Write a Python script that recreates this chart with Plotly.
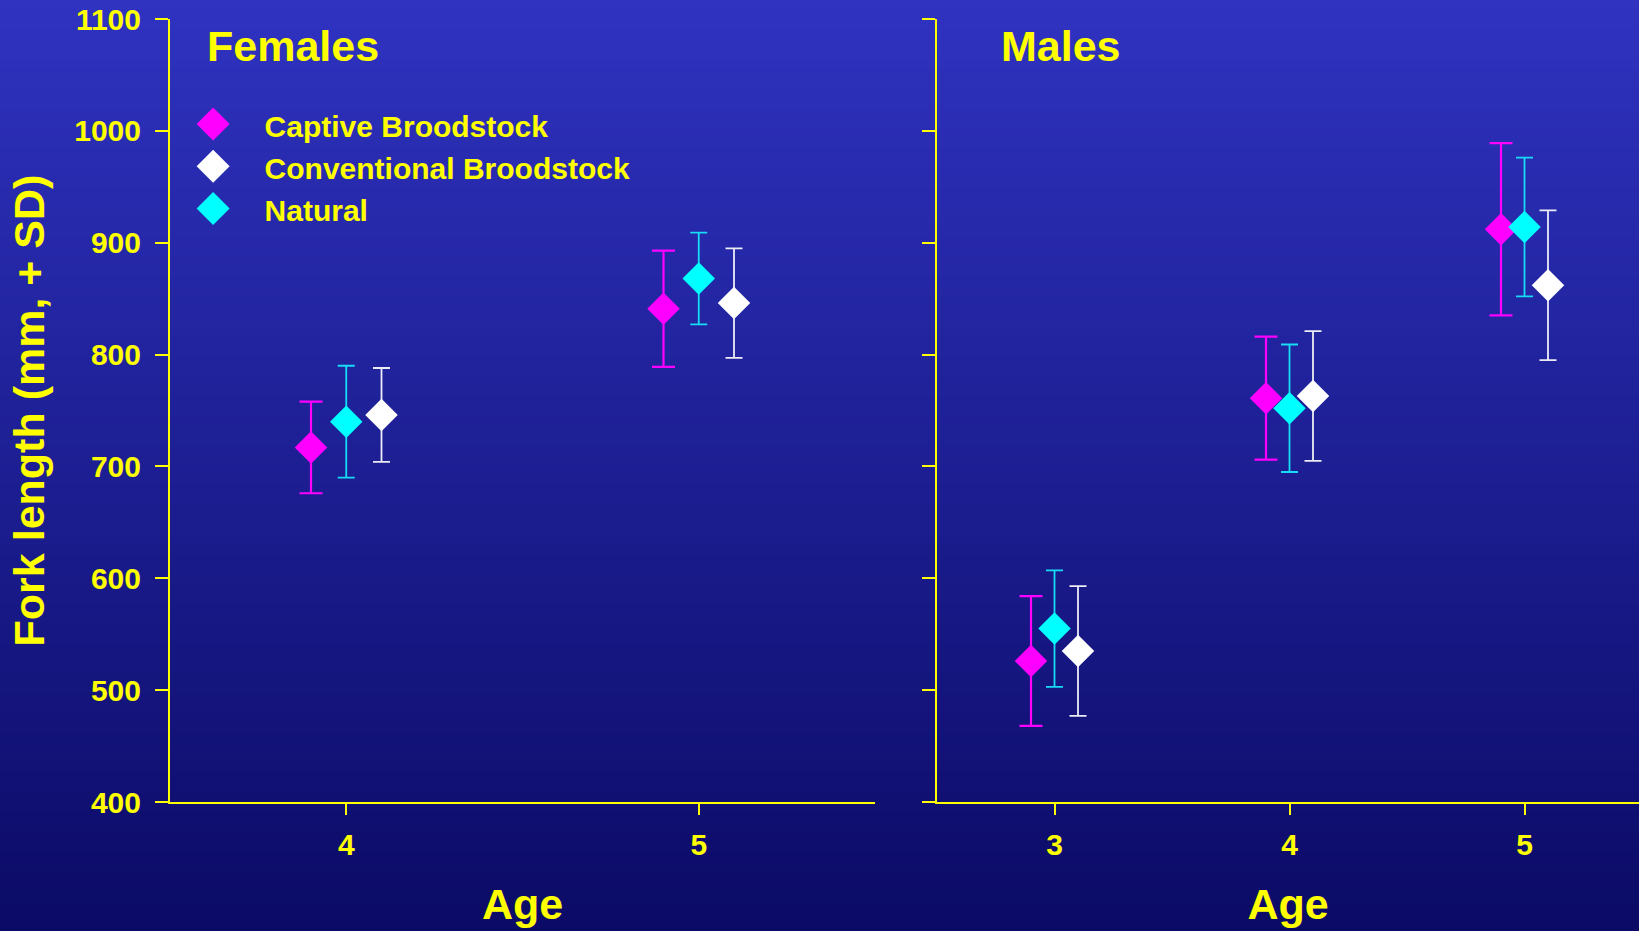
import plotly.graph_objects as go

# ---------------- data ----------------
series_names = ["Captive Broodstock", "Conventional Broodstock", "Natural"]

female_ages = [4, 5]
female_captive_mean = [717, 841]
female_captive_sd = [41, 52]
female_conventional_mean = [746, 846]
female_conventional_sd = [42, 49]
female_natural_mean = [740, 868]
female_natural_sd = [50, 41]

male_ages = [3, 4, 5]
male_captive_mean = [526, 761, 912]
male_captive_sd = [58, 55, 77]
male_conventional_mean = [535, 763, 862]
male_conventional_sd = [58, 58, 67]
male_natural_mean = [555, 752, 914]
male_natural_sd = [52, 57, 62]

y_ticks = [400, 500, 600, 700, 800, 900, 1000, 1100]

# ---------------- style ----------------
W, H = 1639, 931
YEL = "#FFFF00"
FONT = "Liberation Sans, Arial, Helvetica, sans-serif"
styles = {
    "Captive Broodstock": dict(color="#FF00FF", ecolor="#FF00FF", thick=2.2, cap=11.5, dx=-0.1),
    "Conventional Broodstock": dict(color="#FFFFFF", ecolor="#ECECF6", thick=1.8, cap=8.5, dx=0.1),
    "Natural": dict(color="#00FFFF", ecolor="#16DCF6", thick=1.8, cap=8.5, dx=0.0),
}
MSIZE = 25

fig = go.Figure()

panels = [
    ("x", "y", female_ages, [female_captive_mean, female_conventional_mean, female_natural_mean],
     [female_captive_sd, female_conventional_sd, female_natural_sd], True),
    ("x2", "y2", male_ages, [male_captive_mean, male_conventional_mean, male_natural_mean],
     [male_captive_sd, male_conventional_sd, male_natural_sd], False),
]
for xa, ya, ages, means, sds, show in panels:
    for name, m, s in zip(series_names, means, sds):
        st = styles[name]
        fig.add_trace(go.Scatter(
            x=[a + st["dx"] for a in ages], y=m, mode="markers", name=name,
            showlegend=show, xaxis=xa, yaxis=ya,
            marker=dict(symbol="diamond", size=MSIZE, color=st["color"], line=dict(width=0)),
            error_y=dict(type="data", array=s, visible=True, color=st["ecolor"],
                         thickness=st["thick"], width=st["cap"]),
        ))

# gradient background strips
shapes = []
N = 94
top = (47, 51, 192)
bot = (11, 10, 102)
for i in range(N):
    t = (i + 0.5) / N
    c = tuple(round(top[k] + (bot[k] - top[k]) * t) for k in range(3))
    shapes.append(dict(type="rect", xref="paper", yref="paper", layer="below",
                       x0=0, x1=1, y0=1 - (i + 1.05) / N, y1=1 - i / N,
                       fillcolor="rgb(%d,%d,%d)" % c, line=dict(width=0)))

# enlarged legend keys drawn under plotly's own legend symbols
leg_x_px, leg_top_px, row_h, first_off = 161.6, 99.0, 42.3, 24.9
for i, name in enumerate(series_names):
    cx = leg_x_px + 51.5
    cy = leg_top_px + first_off + row_h * i
    r = 16.5
    path = "M %f,%f L %f,%f L %f,%f L %f,%f Z" % (
        (cx - r) / W, 1 - cy / H, cx / W, 1 - (cy - r) / H,
        (cx + r) / W, 1 - cy / H, cx / W, 1 - (cy + r) / H)
    shapes.append(dict(type="path", xref="paper", yref="paper", layer="above",
                       path=path, fillcolor=styles[name]["color"], line=dict(width=0)))

ydom = [1 - 802 / H, 1 - 19 / H]
axis_common = dict(showline=True, linecolor=YEL, linewidth=2, ticks="outside",
                   tickcolor=YEL, tickwidth=2, showgrid=False, zeroline=False,
                   automargin=False,
                   tickfont=dict(family=FONT, size=30, color=YEL, weight="bold"))
title_font = dict(family=FONT, size=43, color=YEL, weight="bold")

fig.update_layout(
    width=W, height=H, template="none",
    margin=dict(l=0, r=0, t=0, b=0),
    paper_bgcolor="rgb(30,30,145)", plot_bgcolor="rgba(0,0,0,0)",
    shapes=shapes,
    xaxis=dict(domain=[170 / W, 875 / W], range=[3.5, 5.5], tickvals=female_ages,
               ticklen=11, anchor="y", ticklabelstandoff=4,
               title=dict(text="Age", font=title_font, standoff=29), **axis_common),
    yaxis=dict(domain=ydom, range=[400, 1100], tickvals=y_ticks, ticklen=13, anchor="x",
               ticklabelstandoff=8,
               title=dict(text="Fork length (mm, + SD)", font=title_font, standoff=16),
               **axis_common),
    xaxis2=dict(domain=[937 / W, 1], range=[2.5, 2.5 + 702 / 235], tickvals=male_ages,
                ticklen=11, anchor="y2", ticklabelstandoff=4,
                title=dict(text="Age", font=title_font, standoff=29), **axis_common),
    yaxis2=dict(domain=ydom, range=[400, 1100], tickvals=y_ticks, ticklen=13, anchor="x2",
                showticklabels=False, **axis_common),
    showlegend=True,
    legend=dict(x=leg_x_px / W, y=1 - leg_top_px / H, xanchor="left", yanchor="top",
                bgcolor="rgba(0,0,0,0)", borderwidth=0, itemwidth=93, tracegroupgap=0,
                font=dict(family=FONT, size=30, color=YEL, weight="bold"),
                itemclick=False, itemdoubleclick=False),
    annotations=[
        dict(text="Females", xref="paper", yref="paper", x=205 / W, y=1 - 46.5 / H,
             xanchor="left", yanchor="middle", showarrow=False, font=title_font),
        dict(text="Males", xref="paper", yref="paper", x=999 / W, y=1 - 46.5 / H,
             xanchor="left", yanchor="middle", showarrow=False, font=title_font),
    ],
)

fig.write_html("out.html", config={"displayModeBar": False},
               post_script="document.body.style.margin='0px';")
